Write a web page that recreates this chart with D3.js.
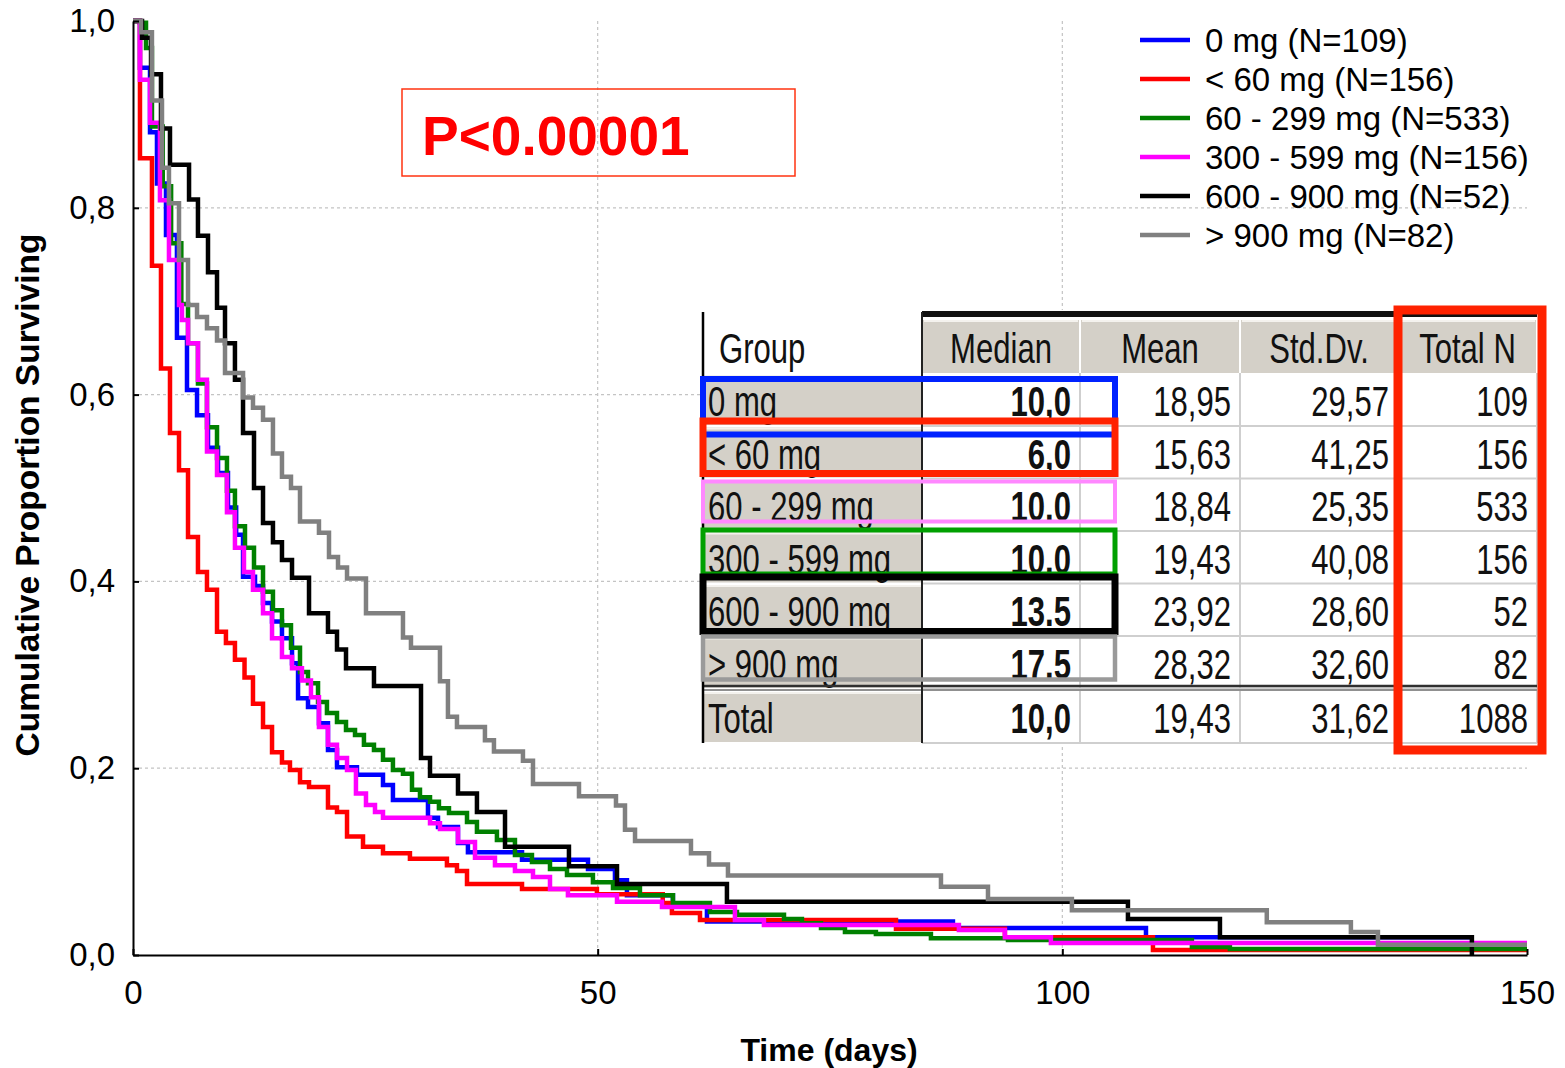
<!DOCTYPE html>
<html>
<head>
<meta charset="utf-8">
<script src="https://cdn.jsdelivr.net/npm/d3@7"></script>
<style>
  body { margin: 0; background: #fff; }
  svg { display: block; }
</style>
</head>
<body>
<svg id="chart" width="1565" height="1068"></svg>
<script>
// groups, legend order
var groupNames = ["0 mg (N=109)", "< 60 mg (N=156)", "60 - 299 mg (N=533)", "300 - 599 mg (N=156)", "600 - 900 mg (N=52)", "> 900 mg (N=82)"];
var groupColors = ["#0000ff", "#ff0000", "#008000", "#ff00ff", "#000000", "#808080"];

// [day, proportion surviving after the drop]
var steps0mg = [[0,1],[0.75,0.95],[1.83,0.881],[2.58,0.826],[3.55,0.771],[4.73,0.661],[5.81,0.605],[6.89,0.578],[8.07,0.543],[9.15,0.516],[10.22,0.479],[11.1,0.45],[11.84,0.405],[13.13,0.395],[13.99,0.377],[14.96,0.357],[16.03,0.339],[17.11,0.3125],[17.76,0.275],[18.83,0.2655],[20.01,0.248],[20.98,0.2195],[21.95,0.201],[24.1,0.193],[26.9,0.182],[27.97,0.166],[31.74,0.147],[32.82,0.137],[34.97,0.12],[36.04,0.11],[41.86,0.102],[48.96,0.092],[51.86,0.08],[53.15,0.064],[58.1,0.0535],[61.76,0.036],[88.23,0.029],[109.0,0.019]];
var stepsUnder60 = [[0,1],[0.75,0.853],[2.04,0.738],[3.01,0.628],[3.98,0.559],[4.95,0.519],[5.92,0.4475],[6.99,0.41],[7.96,0.391],[9.04,0.346],[10.0,0.334],[10.97,0.316],[12.0,0.297],[12.91,0.269],[13.99,0.244],[14.96,0.217],[16.03,0.206],[16.89,0.198],[17.97,0.185],[18.94,0.18],[20.98,0.158],[21.95,0.153],[23.03,0.127],[24.75,0.116],[26.9,0.109],[29.8,0.103],[33.78,0.096],[34.86,0.09],[35.94,0.076],[41.86,0.0707],[49.92,0.065],[57.0,0.0557],[57.99,0.045],[61.01,0.0375],[82.1,0.028],[93.82,0.019],[109.75,0.0054]];
var steps60to299 = [[0,1],[0.75,0.998],[1.4,0.971],[2.04,0.887],[3.2,0.823],[4.1,0.762],[5.2,0.697],[5.92,0.655],[6.99,0.612],[7.96,0.565],[9.04,0.532],[10.11,0.497],[10.97,0.459],[12.05,0.436],[13.02,0.415],[13.99,0.389],[15.06,0.369],[16.03,0.353],[17.0,0.329],[17.97,0.303],[18.83,0.291],[19.91,0.271],[20.87,0.259],[21.95,0.2495],[22.92,0.241],[23.89,0.2355],[24.85,0.225],[25.93,0.2195],[26.9,0.209],[27.97,0.198],[29.05,0.194],[30.02,0.177],[30.88,0.169],[31.96,0.164],[32.92,0.157],[34.0,0.152],[35.94,0.1425],[37.01,0.132],[39.16,0.123],[41.1,0.107],[42.93,0.0996],[44.87,0.092],[46.7,0.0857],[49.49,0.078],[51.65,0.0717],[54.55,0.064],[58.1,0.0557],[62.08,0.046],[64.99,0.043],[70.05,0.0385],[71.98,0.034],[74.03,0.029],[76.61,0.0246],[79.94,0.0225],[85.86,0.018],[94.15,0.016],[113.94,0.0086],[118.03,0.0064]];
var steps300to599 = [[0,1],[0.75,0.937],[1.83,0.891],[2.9,0.808],[3.87,0.744],[4.95,0.696],[5.27,0.68],[5.92,0.655],[6.99,0.616],[7.96,0.539],[9.04,0.514],[10.11,0.474],[10.97,0.436],[11.94,0.41],[12.91,0.391],[13.99,0.366],[14.96,0.339],[16.03,0.319],[17.11,0.307],[18.18,0.294],[19.15,0.276],[20.01,0.244],[20.98,0.225],[21.95,0.211],[23.03,0.198],[23.99,0.173],[25.07,0.1605],[26.04,0.153],[26.9,0.147],[31.96,0.141],[33.03,0.135],[34.97,0.121],[36.8,0.104],[38.95,0.096],[41.1,0.09],[43.04,0.0835],[44.87,0.0707],[46.8,0.064],[52.08,0.057],[56.92,0.0514],[64.77,0.0375],[67.89,0.032],[88.87,0.0268],[93.82,0.019],[98.77,0.0128]];
var steps600to900 = [[0,1],[0.97,0.982],[1.94,0.943],[3.01,0.885],[3.98,0.846],[6.03,0.809],[6.99,0.77],[8.07,0.731],[9.04,0.693],[9.9,0.655],[10.97,0.616],[11.84,0.559],[13.02,0.5],[13.99,0.4625],[15.06,0.442],[16.03,0.423],[17.11,0.404],[18.94,0.366],[20.98,0.346],[21.95,0.327],[22.92,0.307],[25.93,0.288],[30.99,0.211],[31.96,0.192],[34.97,0.173],[37.01,0.153],[40.03,0.116],[46.91,0.095],[52.08,0.076],[63.91,0.057],[107.06,0.0385],[116.96,0.019],[144.07,0]];
var stepsOver900 = [[0,1],[0.86,0.988],[2.04,0.915],[3.12,0.843],[3.87,0.805],[4.95,0.744],[5.92,0.696],[6.89,0.683],[7.96,0.671],[9.04,0.658],[9.9,0.623],[11.84,0.597],[12.91,0.586],[13.99,0.573],[15.06,0.537],[16.03,0.512],[17.0,0.5],[17.97,0.464],[20.01,0.452],[21.09,0.426],[22.06,0.415],[23.03,0.403],[25.07,0.366],[29.05,0.34],[29.91,0.329],[33.03,0.293],[33.89,0.255],[34.86,0.244],[37.87,0.23],[38.84,0.218],[41.96,0.208],[43.04,0.183],[47.99,0.17],[51.97,0.16],[52.94,0.134],[54.02,0.122],[60.04,0.109],[61.98,0.097],[64.02,0.085],[86.94,0.073],[92.0,0.06],[101.03,0.048],[122.0,0.035],[131.05,0.0246],[133.96,0.011]];
var lastDay = [143.9, 150, 150, 150, 144.07, 150];

var xTicks = [0, 50, 100, 150];
var yTicks = [0, 0.2, 0.4, 0.6, 0.8, 1.0];

// results table
var tableHeaders = ["Median", "Mean", "Std.Dv.", "Total N"];
var tableGroups = ["0 mg", "< 60 mg", "60 - 299 mg", "300 - 599 mg", "600 - 900 mg", "> 900 mg", "Total"];
var medianText = ["10,0", "6,0", "10.0", "10.0", "13.5", "17.5", "10,0"];
var meanText = ["18,95", "15,63", "18,84", "19,43", "23,92", "28,32", "19,43"];
var stdText = ["29,57", "41,25", "25,35", "40,08", "28,60", "32,60", "31,62"];
var totalNText = ["109", "156", "533", "156", "52", "82", "1088"];
var rowBoxColors = ["#0022ff", "#ff2200", "#ff88ff", "#00a000", "#000000", "#9a9a9a"];

var SANS = "'Liberation Sans', Arial, sans-serif";

var svg = d3.select("#chart");
var x = d3.scaleLinear().domain([0, 150]).range([133, 1527]);
var y = d3.scaleLinear().domain([0, 1]).range([955, 21]);

// grid, dotted
var grid = svg.append("g").attr("stroke", "#c4c4c4").attr("stroke-width", 1.2).attr("stroke-dasharray", "3,3");
[0.2, 0.4, 0.6, 0.8].forEach(function(v){
    grid.append("line").attr("x1", x(0)).attr("x2", x(150)).attr("y1", y(v)).attr("y2", y(v));
});
[50, 100].forEach(function(v){
    grid.append("line").attr("x1", x(v)).attr("x2", x(v)).attr("y1", y(1)).attr("y2", y(0));
});

// survival curves
var allSteps = [steps0mg, stepsUnder60, steps60to299, steps300to599, steps600to900, stepsOver900];
var stepLine = d3.line()
    .x(function(d){ return x(d[0]); })
    .y(function(d){ return y(d[1]); })
    .curve(d3.curveStepAfter);

allSteps.forEach(function(steps, i){
    var pts = steps.slice();
    pts.push([lastDay[i], steps[steps.length - 1][1]]);
    svg.append("path")
        .datum(pts)
        .attr("d", stepLine)
        .attr("fill", "none")
        .attr("stroke", groupColors[i])
        .attr("stroke-width", 4.5);
});

// axes
var fmt = function(v){ return d3.format(".1f")(v).replace(".", ","); };
var yAxis = svg.append("g")
    .attr("transform", "translate(" + x(0) + ",0)")
    .call(d3.axisLeft(y).tickValues(yTicks).tickFormat(fmt).tickSizeInner(-6).tickSizeOuter(0).tickPadding(18));
var xAxis = svg.append("g")
    .attr("transform", "translate(0," + y(0) + ")")
    .call(d3.axisBottom(x).tickValues(xTicks).tickFormat(d3.format("d")).tickSizeInner(-6).tickSizeOuter(0).tickPadding(26));
[yAxis, xAxis].forEach(function(ax){
    ax.select(".domain").attr("stroke", "#000").attr("stroke-width", 2);
    ax.selectAll(".tick line").attr("stroke", "#000").attr("stroke-width", 2);
    ax.selectAll(".tick text").attr("font-family", SANS).attr("font-size", 33).attr("fill", "#000");
});

svg.append("text")
    .attr("transform", "translate(39,495) rotate(-90)")
    .attr("text-anchor", "middle")
    .attr("font-family", SANS)
    .attr("font-weight", "bold")
    .attr("font-size", 33.5)
    .text("Cumulative Proportion Surviving");

svg.append("text")
    .attr("x", 829)
    .attr("y", 1061)
    .attr("text-anchor", "middle")
    .attr("font-family", SANS)
    .attr("font-weight", "bold")
    .attr("font-size", 32)
    .text("Time (days)");

// p value box
svg.append("rect")
    .attr("x", 402).attr("y", 89).attr("width", 393).attr("height", 87)
    .attr("fill", "none").attr("stroke", "#ff3311").attr("stroke-width", 1.5);
svg.append("text")
    .attr("x", 422).attr("y", 155)
    .attr("font-family", SANS).attr("font-weight", "bold").attr("font-size", 55)
    .attr("fill", "#ff0000")
    .text("P<0.00001");

// legend
var legend = svg.append("g");
groupNames.forEach(function(name, i){
    var ly = 40 + i * 39;
    legend.append("line")
        .attr("x1", 1140).attr("x2", 1190).attr("y1", ly).attr("y2", ly)
        .attr("stroke", groupColors[i]).attr("stroke-width", 4.5);
    legend.append("text")
        .attr("x", 1205).attr("y", ly + 12)
        .attr("font-family", SANS).attr("font-size", 33)
        .text(name);
});

// results table, condensed text
var colX = [703, 922, 1080, 1240, 1398, 1537];
var headTop = 320, headBottom = 373;
var rowTop = [375, 427.5, 480, 532.5, 585, 637.5, 692];
var rowH = 52;
var tbl = svg.append("g");
var cellGray = "#d4d0c8";

function cellText(tx, ty, anchor, str, bold) {
    tbl.append("text")
        .attr("transform", "translate(" + tx + "," + ty + ") scale(0.74,1)")
        .attr("text-anchor", anchor)
        .attr("font-family", SANS).attr("font-size", 42)
        .attr("font-weight", bold ? "bold" : "normal")
        .attr("fill", "#111")
        .text(str);
}

tbl.append("rect").attr("x", 701).attr("y", 310).attr("width", 838).attr("height", 435).attr("fill", "#fff");

// header cells
tableHeaders.forEach(function(h, j){
    var x0 = colX[j + 1], x1 = colX[j + 2];
    tbl.append("rect").attr("x", x0 + 1).attr("y", headTop).attr("width", x1 - x0 - 2).attr("height", headBottom - headTop)
        .attr("fill", cellGray);
    tbl.append("line").attr("x1", x0 + 2).attr("x2", x1 - 2).attr("y1", headTop + 1).attr("y2", headTop + 1)
        .attr("stroke", "#f4f2ee").attr("stroke-width", 2);
    cellText((x0 + x1) / 2, 363, "middle", h, false);
});
tbl.append("rect").attr("x", 922).attr("y", 311).attr("width", 615).attr("height", 6).attr("fill", "#111");
cellText(719, 363, "start", "Group", false);

// rows
tableGroups.forEach(function(g, i){
    var top = rowTop[i];
    tbl.append("rect").attr("x", 704).attr("y", top).attr("width", 217).attr("height", rowH - 2).attr("fill", cellGray);
    tbl.append("line").attr("x1", 704).attr("x2", 921).attr("y1", top + 1).attr("y2", top + 1)
        .attr("stroke", "#f4f2ee").attr("stroke-width", 2);
    tbl.append("line").attr("x1", 922).attr("x2", 1537).attr("y1", top + rowH - 1).attr("y2", top + rowH - 1)
        .attr("stroke", "#cfcfcf").attr("stroke-width", 2);
    cellText(708, top + 41, "start", g, false);
    var vals = [medianText[i], meanText[i], stdText[i], totalNText[i]];
    vals.forEach(function(v, j){
        cellText(colX[j + 2] - 9, top + 41, "end", v, j == 0);
    });
});
[1080, 1240, 1398, 1537].forEach(function(cx){
    tbl.append("line").attr("x1", cx).attr("x2", cx).attr("y1", 373).attr("y2", 743)
        .attr("stroke", "#cfcfcf").attr("stroke-width", 2);
});
tbl.append("line").attr("x1", 703).attr("x2", 1537).attr("y1", 686).attr("y2", 686).attr("stroke", "#303030").attr("stroke-width", 2.5);
tbl.append("line").attr("x1", 703).attr("x2", 1537).attr("y1", 690).attr("y2", 690).attr("stroke", "#909090").attr("stroke-width", 2);
tbl.append("line").attr("x1", 703).attr("x2", 703).attr("y1", 312).attr("y2", 743).attr("stroke", "#000").attr("stroke-width", 2.5);
tbl.append("line").attr("x1", 922).attr("x2", 922).attr("y1", 312).attr("y2", 743).attr("stroke", "#222").attr("stroke-width", 2);

// coloured outlines drawn over the table
var boxTop = [379, 421, 481.5, 530, 577, 636.5];
var boxBottom = [434.5, 473.5, 521.5, 574, 631.5, 679.5];
var boxStroke = [6, 7, 4, 5, 7, 4.5];
rowBoxColors.forEach(function(c, i){
    tbl.append("rect")
        .attr("x", 703).attr("y", boxTop[i])
        .attr("width", 412).attr("height", boxBottom[i] - boxTop[i])
        .attr("fill", "none").attr("stroke", c).attr("stroke-width", boxStroke[i]);
});
tbl.append("rect")
    .attr("x", 1398).attr("y", 310).attr("width", 144).attr("height", 440)
    .attr("fill", "none").attr("stroke", "#ff2200").attr("stroke-width", 9);
</script>
</body>
</html>
